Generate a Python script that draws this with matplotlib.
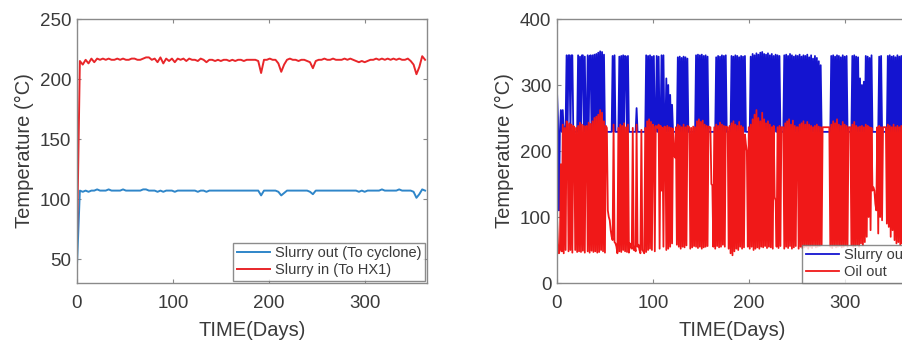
import numpy as np
import matplotlib.pyplot as plt

plt.rcParams['font.family'] = ['Liberation Sans', 'DejaVu Sans']

# ---- left panel: slurry temperatures, sampled every 3 days ----
slurry_in = [65, 215, 212, 216, 213, 217, 214, 217, 216, 217,
             216, 217, 216, 216, 217, 216, 217, 216, 216, 217,
             217, 216, 216, 217, 218, 218, 216, 217, 214, 218,
             213, 217, 215, 217, 214, 217, 216, 217, 215, 217,
             216, 216, 215, 217, 216, 214, 216, 216, 215, 216,
             215, 216, 216, 215, 216, 215, 216, 216, 215, 216,
             216, 216, 216, 215, 205, 216, 216, 217, 216, 216,
             213, 206, 212, 216, 217, 216, 216, 215, 216, 216,
             215, 214, 209, 215, 216, 216, 217, 216, 216, 217,
             216, 216, 216, 217, 216, 217, 216, 215, 214, 215,
             214, 215, 216, 216, 217, 216, 217, 216, 217, 216,
             217, 216, 217, 216, 216, 217, 215, 212, 204, 210,
             219, 216]
slurry_out = [45, 107, 106, 107, 106, 107, 107, 108, 107, 107,
              107, 108, 107, 107, 107, 107, 108, 107, 107, 107,
              107, 107, 107, 108, 108, 107, 107, 107, 106, 107,
              106, 107, 107, 107, 106, 107, 107, 107, 107, 107,
              107, 107, 106, 107, 107, 106, 107, 107, 107, 107,
              107, 107, 107, 107, 107, 107, 107, 107, 107, 107,
              107, 107, 107, 107, 103, 107, 107, 107, 107, 107,
              106, 103, 105, 107, 107, 107, 107, 107, 107, 107,
              107, 106, 104, 107, 107, 107, 107, 107, 107, 107,
              107, 107, 107, 107, 107, 107, 107, 107, 106, 107,
              106, 107, 107, 107, 107, 107, 108, 107, 107, 107,
              107, 107, 108, 107, 107, 107, 107, 106, 101, 104,
              108, 107]
left_days = np.arange(0, 3 * len(slurry_in), 3)

# ---- right panel: daily values ----
slurry_out_r = [
    290, 250, 110, 229, 262, 229, 262, 229, 229, 240,
    345, 229, 345, 345, 229, 345, 345, 229, 229, 229,
    229, 229, 345, 229, 343, 229, 345, 345, 229, 343,
    229, 229, 345, 229, 344, 345, 229, 345, 229, 346,
    229, 347, 229, 349, 229, 351, 229, 350, 229, 346,
    229, 229, 229, 229, 229, 229, 229, 229, 344, 229,
    345, 229, 229, 229, 229, 343, 229, 344, 229, 345,
    229, 344, 343, 229, 344, 229, 229, 229, 229, 229,
    229, 229, 229, 265, 229, 229, 229, 229, 229, 229,
    229, 229, 229, 345, 229, 344, 229, 345, 229, 343,
    229, 344, 229, 229, 344, 229, 343, 229, 229, 345,
    229, 345, 229, 229, 310, 229, 300, 229, 285, 229,
    270, 229, 229, 229, 229, 229, 342, 229, 343, 229,
    341, 229, 343, 229, 342, 229, 340, 229, 229, 229,
    229, 229, 229, 229, 229, 345, 229, 346, 229, 345,
    229, 346, 229, 344, 229, 345, 229, 343, 229, 229,
    229, 229, 229, 229, 229, 229, 342, 229, 344, 229,
    343, 229, 345, 229, 344, 229, 345, 229, 229, 229,
    229, 229, 344, 229, 343, 229, 345, 229, 344, 229,
    342, 229, 344, 229, 343, 229, 344, 229, 229, 229,
    229, 229, 343, 229, 347, 229, 345, 229, 348, 229,
    346, 229, 349, 229, 350, 229, 347, 229, 346, 229,
    348, 229, 345, 229, 347, 229, 344, 229, 346, 229,
    345, 229, 344, 229, 229, 229, 229, 345, 229, 346,
    229, 344, 229, 347, 229, 345, 229, 343, 229, 345,
    229, 344, 229, 346, 229, 343, 229, 345, 229, 344,
    229, 346, 229, 342, 229, 345, 229, 340, 229, 344,
    229, 341, 229, 336, 229, 330, 229, 229, 229, 229,
    229, 229, 229, 229, 229, 229, 344, 229, 345, 229,
    343, 229, 345, 229, 344, 229, 342, 229, 345, 229,
    343, 229, 344, 229, 229, 229, 229, 229, 344, 229,
    345, 229, 343, 229, 342, 229, 310, 229, 300, 229,
    305, 229, 344, 229, 343, 229, 341, 229, 345, 229,
    229, 229, 229, 229, 229, 229, 343, 229, 344, 229,
    229, 229, 229, 229, 229, 344, 229, 345, 229, 343,
    229, 344, 229, 342, 229, 345, 229, 343, 229, 344,
    229, 343, 229, 345, 229, 344]
oil_out = [
    100, 60, 45, 50, 180, 48, 240, 45, 235, 50,
    245, 240, 48, 242, 50, 240, 46, 238, 236, 50,
    235, 47, 238, 48, 243, 47, 240, 49, 238, 46,
    237, 238, 48, 243, 46, 241, 49, 245, 47, 250,
    48, 252, 46, 255, 47, 262, 50, 258, 48, 245,
    46, 238, 235, 110, 100, 95, 80, 70, 65, 240,
    62, 60, 55, 45, 235, 48, 240, 47, 238, 50,
    242, 48, 236, 47, 240, 46, 60, 55, 52, 235,
    50, 55, 48, 240, 55, 58, 50, 45, 232, 50,
    48, 45, 235, 47, 245, 50, 248, 52, 244, 50,
    240, 236, 48, 238, 236, 235, 240, 52, 238, 140,
    235, 55, 237, 236, 50, 238, 52, 236, 55, 235,
    60, 234, 195, 190, 236, 58, 240, 55, 238, 52,
    236, 55, 240, 54, 236, 57, 238, 237, 236, 52,
    235, 54, 237, 56, 236, 55, 245, 53, 248, 55,
    244, 52, 246, 54, 240, 55, 238, 56, 237, 236,
    236, 150, 148, 55, 236, 52, 240, 56, 238, 54,
    243, 55, 240, 58, 238, 55, 237, 236, 236, 52,
    238, 45, 242, 42, 245, 48, 240, 52, 238, 50,
    244, 55, 238, 52, 236, 54, 225, 210, 200, 55,
    236, 52, 240, 55, 248, 50, 255, 52, 262, 54,
    250, 52, 245, 55, 258, 54, 248, 56, 242, 53,
    245, 55, 240, 54, 236, 52, 238, 130, 125, 55,
    236, 53, 238, 56, 236, 236, 236, 52, 242, 55,
    245, 53, 248, 56, 240, 52, 246, 54, 238, 56,
    236, 236, 52, 240, 55, 242, 53, 245, 54, 240,
    55, 244, 52, 240, 55, 238, 53, 236, 56, 238,
    54, 240, 55, 237, 56, 236, 58, 236, 236, 236,
    236, 236, 236, 236, 236, 55, 240, 53, 245, 56,
    242, 54, 248, 55, 240, 56, 238, 54, 244, 55,
    240, 57, 238, 55, 236, 236, 236, 57, 240, 55,
    244, 56, 238, 58, 236, 55, 237, 60, 238, 57,
    236, 62, 240, 70, 238, 100, 236, 80, 235, 140,
    145, 140, 120, 110, 236, 75, 238, 100, 236, 95,
    236, 236, 236, 236, 90, 240, 85, 238, 70, 236,
    80, 240, 65, 236, 60, 238, 62, 236, 58, 238,
    60, 236, 62, 238, 65, 75]
right_days = np.arange(len(oil_out))

txt = '#3a3a3a'
fig = plt.figure(figsize=(9.03, 3.41), dpi=100)
ax1 = fig.add_axes([77/903, 1 - 283/341, 350/903, 264/341])
ax2 = fig.add_axes([557/903, 1 - 283/341, 350/903, 264/341])

ax1.plot(left_days, slurry_out, color='#2f86c9', lw=1.4, label='Slurry out (To cyclone)')
ax1.plot(left_days, slurry_in, color='#e8262a', lw=1.4, label='Slurry in (To HX1)')
ax1.set_xlim(0, 365)
ax1.set_ylim(30, 250)
ax1.set_yticks([50, 100, 150, 200, 250])
ax1.legend(loc='lower right', fontsize=10.5, frameon=True, fancybox=False,
           edgecolor='#707070', handlelength=2.3, borderaxespad=0.15,
           borderpad=0.25, labelspacing=0.2, handletextpad=0.3,
           labelcolor=txt)

ax2.plot(right_days, slurry_out_r, color='#1414d0', lw=1.3, label='Slurry out')
ax2.plot(right_days, oil_out, color='#f01818', lw=1.3, label='Oil out')
ax2.set_xlim(0, 365)
ax2.set_ylim(0, 400)
ax2.set_yticks([0, 100, 200, 300, 400])
ax2.legend(loc='lower left', bbox_to_anchor=(0.70, 0.0), fontsize=10.5,
           frameon=True, fancybox=False, edgecolor='#707070',
           handlelength=2.3, borderaxespad=0.0, borderpad=0.25,
           labelspacing=0.2, handletextpad=0.3, labelcolor=txt)

for ax in (ax1, ax2):
    ax.set_xticks([0, 100, 200, 300])
    ax.tick_params(direction='in', top=True, right=True, length=3,
                   labelsize=13.5, colors='#888888', labelcolor=txt)
    ax.tick_params(axis='x', pad=9)
    ax.tick_params(axis='y', pad=4)
    for s in ax.spines.values():
        s.set_color('#8a8a8a')
        s.set_linewidth(1.0)
    ax.set_xlabel('TIME(Days)', fontsize=14.5, color=txt, labelpad=6)
    ax.set_ylabel('Temperature (°C)', fontsize=14.5, color=txt, labelpad=4)

fig.savefig('out.png', dpi=100)
